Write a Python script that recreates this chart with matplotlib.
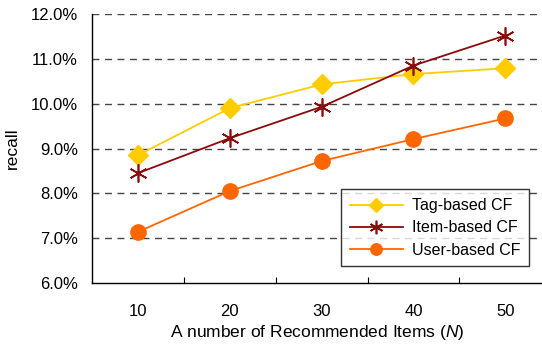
import matplotlib
matplotlib.use("Agg")
import matplotlib.pyplot as plt

plt.rcParams['font.family'] = ['Liberation Sans', 'DejaVu Sans']
plt.rcParams['mathtext.fontset'] = 'custom'
plt.rcParams['mathtext.it'] = 'Liberation Sans:italic'
plt.rcParams['mathtext.rm'] = 'Liberation Sans'

categories = ["10", "20", "30", "40", "50"]
tag_based = [8.85, 9.90, 10.43, 10.66, 10.79]
item_based = [8.45, 9.23, 9.93, 10.85, 11.52]
user_based = [7.14, 8.05, 8.72, 9.21, 9.67]
yticks = [6, 7, 8, 9, 10, 11, 12]

fig = plt.figure(figsize=(5.42, 3.44), dpi=100)
ax = fig.add_axes([92/542, 1-283/344, 1-92/542, (283-14)/344])

x = list(range(len(categories)))
ax.plot(x, tag_based, color='#FFCC00', marker='D', markersize=10, lw=1.3,
        label='Tag-based CF', zorder=4)
ax.plot(x, item_based, color='#8B0A0A', marker=(6, 2, 0), markersize=13, lw=1.3,
        mew=1.2, label='Item-based CF', zorder=4)
ax.plot(x, user_based, color='#FF6600', marker='o', markersize=11, lw=1.3,
        label='User-based CF', zorder=4)

ax.set_xlim(-0.5, 4.4)
ax.set_ylim(6, 12)
ax.set_yticks(yticks)
ax.set_yticklabels([f"{v:.1f}%" for v in yticks], fontsize=12)
ax.set_xticks(x)
ax.set_xticklabels(categories, fontsize=12)
ax.tick_params(axis='x', length=0, pad=15)
ax.tick_params(axis='y', length=0, pad=10)
ax.set_xticks([0.5, 1.5, 2.5, 3.5], minor=True)
ax.tick_params(axis='x', which='minor', direction='in', length=4, width=0.8)

for v in yticks[1:]:
    ax.axhline(v, color='#444444', lw=1.0, dashes=(5, 4), zorder=1)

ax.spines['top'].set_visible(False)
ax.spines['right'].set_visible(False)
ax.spines['left'].set_linewidth(1.0)
ax.spines['bottom'].set_linewidth(1.0)

ax.set_ylabel('recall', fontsize=12.5, labelpad=8)
ax.set_xlabel('A number of Recommended Items ($\\mathit{N}$)', fontsize=12.5, labelpad=3)

leg = ax.legend(loc='lower right', bbox_to_anchor=(0.972, 0.062), fontsize=11.5,
                frameon=True, fancybox=False, edgecolor='black', handlelength=3.3,
                borderpad=0.55, labelspacing=0.45, handletextpad=0.6, borderaxespad=0,
                markerscale=0.75)
leg.get_frame().set_linewidth(1.0)

fig.savefig('out.png', dpi=100)
